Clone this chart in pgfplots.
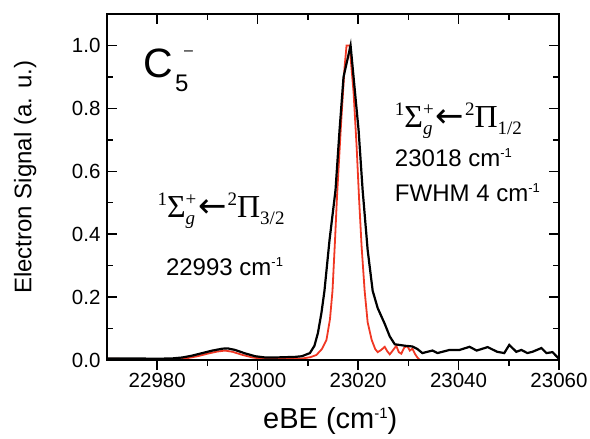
\documentclass[border=0pt]{standalone}
\usepackage{fontspec}
\setmainfont{Liberation Sans}
\newfontfamily\serif{Liberation Serif}
\newfontfamily\dejavu{DejaVu Sans}
\usepackage{graphicx}
\usepackage{pgfplots}
\pgfplotsset{compat=1.18}
\definecolor{myred}{RGB}{240,55,35}
\newcommand\fs[1]{\fontsize{#1}{#1}\selectfont}
\newcommand\sig[1]{{\serif\fs{32bp}\raisebox{12bp}{\fs{19bp}1}Σ\rlap{\raisebox{12bp}{\fs{19bp}+}}\raisebox{-7bp}{\fs{19bp}\itshape g}\hspace{3bp}{\dejavu\fs{34bp}←}\hspace{1bp}\raisebox{12bp}{\fs{19bp}2}Π\raisebox{-7bp}{\fs{19bp}#1}}}
\newcommand\cmi{cm\raisebox{9bp}{\fs{13bp}-1}}
\begin{document}
\begin{tikzpicture}
\useasboundingbox (-107bp,-79bp) rectangle (483bp,360bp);
\pgfplotsset{common/.style={
  at={(0,0)}, anchor=south west,
  width=452bp, height=346bp, scale only axis,
  xmin=22970, xmax=23060, ymin=0, ymax=1.1,
  scaled ticks=false,
  axis line style={line width=1.8bp},
  major tick length=10bp, minor tick length=6bp,
  every tick/.style={line width=1.5bp, black},
  tick label style={font=\fs{20.5bp}},
  /pgf/number format/assume math mode=true,
  /pgf/number format/1000 sep={},
}}
\begin{axis}[common,
  xtick={22980,23000,23020,23040,23060}, minor x tick num=1,
  xtick pos=bottom, tick align=outside,
  ytick=\empty,
  xlabel={eBE (cm\raisebox{10bp}{\fs{15bp}-1})},
  xlabel style={at={(axis description cs:0.494,-0.176)}, anchor=center, font=\fs{29bp}},
]
\addplot[myred, line width=1.8bp] coordinates {
(22970,0.004) (22975,0.003) (22980,0.002) (22984,0.003) (22986,0.006)
(22988,0.012) (22990,0.020) (22992,0.027) (22993.5,0.030) (22995,0.026)
(22997,0.016) (22999,0.008) (23001,0.004) (23004,0.003) (23007,0.004)
(23009,0.005) (23010.5,0.009) (23011.7,0.016) (23012.8,0.035) (23013.7,0.064)
(23014.4,0.13) (23014.9,0.22) (23015.4,0.38) (23015.8,0.52) (23016.6,0.75)
(23017.3,0.93) (23017.7,1.0) (23018.3,1.0) (23019.1,0.85) (23019.7,0.68)
(23020.2,0.51) (23020.7,0.36) (23021.3,0.22) (23021.9,0.12) (23022.7,0.064)
(23023.4,0.035) (23023.9,0.025) (23024.6,0.032) (23025.3,0.042) (23025.8,0.028)
(23026.3,0.018) (23026.9,0.030) (23027.6,0.045) (23028.1,0.025) (23028.6,0.020)
(23029.2,0.040) (23029.8,0.044) (23030.3,0.030) (23030.8,0.036) (23031.3,0.020)
(23031.8,0.008) (23032.3,0.0)
};
\addplot[black, line width=2.2bp] coordinates {
(22970,0.005) (22975,0.005) (22980,0.004) (22983,0.005) (22985,0.008)
(22987,0.014) (22989,0.022) (22991,0.030) (22993,0.036) (22994,0.037)
(22995.5,0.032) (22997.5,0.021) (22999.5,0.012) (23001.5,0.008) (23003.5,0.008)
(23005.5,0.009) (23007.5,0.010) (23008.8,0.012) (23010.4,0.022) (23011.3,0.045)
(23012,0.086) (23012.7,0.15) (23013.3,0.22) (23014.3,0.38) (23015.5,0.54)
(23016.3,0.73) (23017.1,0.90) (23018.5,1.0) (23020.1,0.73) (23020.9,0.54)
(23021.9,0.35) (23022.9,0.22) (23023.9,0.165) (23025.3,0.115) (23026.3,0.075)
(23027.3,0.05) (23029.5,0.045) (23030.8,0.043) (23031.8,0.035) (23032.8,0.022)
(23034.8,0.030) (23035.8,0.022) (23038.2,0.032) (23040.2,0.032) (23042.2,0.042)
(23043.6,0.030) (23045.8,0.041) (23047.7,0.026) (23049.1,0.022) (23050.1,0.048)
(23051.5,0.026) (23052.5,0.032) (23053.7,0.022) (23054.7,0.026) (23056.5,0.038)
(23057.5,0.022) (23058.7,0.025) (23060,0.004)
};
\node[anchor=base west, inner sep=0] (C) at (axis cs:22977.15,0.898) {\fs{41bp}C};
\node[anchor=base west, inner sep=0] at ([xshift=2bp,yshift=-14bp]C.base east) {\fs{24bp}5};
\node[anchor=base west, inner sep=0] at ([xshift=11bp,yshift=22bp]C.base east) {\fs{16bp}–};
\node[anchor=base, inner sep=0] at (axis cs:22992.7,0.452) {\sig{3/2}};
\node[anchor=base, inner sep=0] at (axis cs:22993.4,0.27) {\fs{24bp}22993 \cmi};
\node[anchor=base west, inner sep=0] at (axis cs:23027.3,0.739) {\sig{1/2}};
\node[anchor=base west, inner sep=0] at (axis cs:23027.3,0.615) {\fs{24bp}23018 \cmi};
\node[anchor=base west, inner sep=0] at (axis cs:23027.3,0.503) {\fs{24bp}FWHM 4 \cmi};
\end{axis}
\begin{axis}[common,
  xtick={22980,23000,23020,23040,23060}, minor x tick num=1,
  xtick pos=top, xticklabels={},
  ytick={0,0.2,...,1.0}, minor y tick num=1,
  ytick pos=both, yticklabel pos=left,
  yticklabel style={xshift=-3bp, /pgf/number format/fixed, /pgf/number format/fixed zerofill, /pgf/number format/precision=1},
  tick align=inside,
  ylabel={Electron Signal (a. u.)},
  ylabel style={at={(axis description cs:-0.181,0.528)}, anchor=center, rotate=0, font=\fs{24bp}},
]
\end{axis}
\end{tikzpicture}
\end{document}
